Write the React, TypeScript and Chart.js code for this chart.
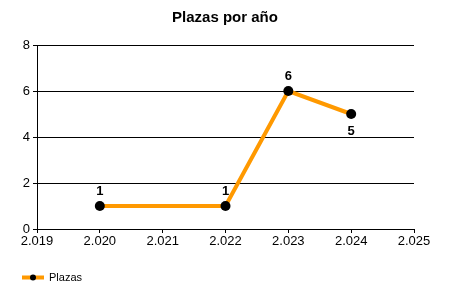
import React, { useEffect, useRef } from "react";
import { Chart, registerables } from "chart.js";

Chart.register(...registerables);

const years = [2020, 2022, 2023, 2024];
const plazas = [1, 1, 6, 5];
const labelBelow = [false, false, false, true];
const seriesName = "Plazas";
const chartTitle = "Plazas por año";

const FONT = "'Liberation Sans', Arial, sans-serif";
const LINE_COLOR = "#FF9900";

const fmtYear = (v: number) => {
  const s = String(Math.round(v));
  return s.length > 3 ? s.slice(0, s.length - 3) + "." + s.slice(-3) : s;
};

const labelsPlugin = {
  id: "dataLabels",
  afterDatasetsDraw(chart: any) {
    const ctx = chart.ctx;
    const meta = chart.getDatasetMeta(0);
    ctx.save();
    ctx.font = `bold 13px ${FONT}`;
    ctx.fillStyle = "#000";
    ctx.textAlign = "center";
    ctx.textBaseline = "middle";
    meta.data.forEach((pt: any, i: number) => {
      const below = labelBelow[i];
      ctx.fillText(String(plazas[i]), pt.x, below ? pt.y + 17 : pt.y - 15);
    });
    ctx.restore();
  },
  afterDraw(chart: any) {
    const ctx = chart.ctx;
    ctx.save();
    // title
    ctx.font = `bold 15px ${FONT}`;
    ctx.fillStyle = "#000";
    ctx.textAlign = "center";
    ctx.textBaseline = "middle";
    ctx.fillText(chartTitle, 225, 17.5);
    // legend
    const y = 277.5;
    ctx.strokeStyle = LINE_COLOR;
    ctx.lineWidth = 4;
    ctx.beginPath();
    ctx.moveTo(22, y);
    ctx.lineTo(44, y);
    ctx.stroke();
    ctx.fillStyle = "#000";
    ctx.beginPath();
    ctx.arc(33, y, 3, 0, Math.PI * 2);
    ctx.fill();
    ctx.font = `11px ${FONT}`;
    ctx.textAlign = "left";
    ctx.textBaseline = "middle";
    ctx.fillText(chart.data.datasets[0].label, 49, y);
    ctx.restore();
  },
};

export default function App() {
  const ref = useRef<HTMLCanvasElement>(null);
  useEffect(() => {
    if (!ref.current) return;
    const chart = new Chart(ref.current, {
      type: "line",
      data: {
        datasets: [
          {
            label: seriesName,
            data: years.map((x, i) => ({ x, y: plazas[i] })),
            borderColor: LINE_COLOR,
            borderWidth: 4,
            pointBackgroundColor: "#000",
            pointBorderColor: "#000",
            pointRadius: 5,
            pointBorderWidth: 0,
            tension: 0,
            fill: false,
          },
        ],
      },
      options: {
        responsive: false,
        animation: false,
        layout: { padding: { left: 0, right: 36, top: 45, bottom: 0 } },
        plugins: {
          legend: { display: false },
          tooltip: { enabled: false },
          title: { display: false },
        },
        scales: {
          x: {
            type: "linear",
            min: 2019,
            max: 2025,
            afterFit(scale: any) {
              scale.height = 71;
            },
            ticks: {
              stepSize: 1,
              color: "#000",
              font: { family: FONT, size: 13 },
              padding: 1,
              maxRotation: 0,
              callback: (v: any) => fmtYear(Number(v)),
            },
            grid: {
              drawOnChartArea: false,
              drawTicks: true,
              tickLength: 4,
              color: "#000",
            },
            border: { display: true, color: "#000", width: 1 },
          },
          y: {
            min: 0,
            max: 8,
            afterFit(scale: any) {
              scale.width = 37;
            },
            ticks: {
              stepSize: 2,
              color: "#000",
              font: { family: FONT, size: 13 },
              padding: 3,
            },
            grid: {
              color: "#000",
              tickLength: 4,
              drawTicks: true,
            },
            border: { display: true, color: "#000", width: 1 },
          },
        },
      },
      plugins: [labelsPlugin],
    });
    return () => chart.destroy();
  }, []);
  return (
    <div style={{ position: "fixed", left: 0, top: 0, width: 450, height: 300, background: "#fff" }}>
      <canvas ref={ref} width={450} height={300} />
    </div>
  );
}
